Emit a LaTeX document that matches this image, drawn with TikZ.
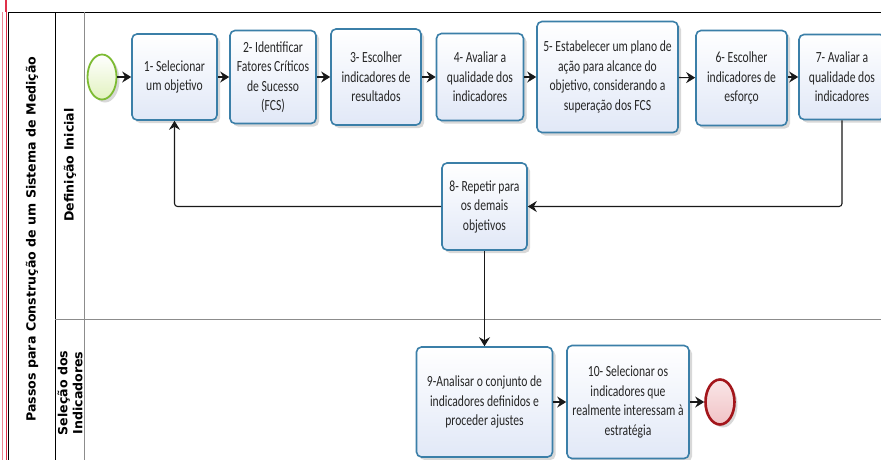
\documentclass[tikz,border=0pt]{standalone}
\usepackage{fontspec}
\newfontfamily\taskfont[FakeStretch=0.75]{Carlito}
\newfontfamily\lanefont{DejaVu Sans}
\usepackage{tikz}
\usetikzlibrary{arrows.meta,shapes.geometric,shadows}
\definecolor{taskline}{HTML}{3B7FA8}
\definecolor{taskfill}{HTML}{E1E8F7}
\definecolor{startline}{HTML}{7DBB33}
\definecolor{startfill}{HTML}{E2F2BF}
\definecolor{endline}{HTML}{A3161B}
\definecolor{endfill}{HTML}{F1C2C5}
\definecolor{laneline}{HTML}{8C8C8C}
\definecolor{poolmark}{HTML}{E0304A}
\tikzset{
  task/.style={draw=taskline,line width=1.6pt,rounded corners=5pt,
    top color=white,bottom color=taskfill,
    drop shadow={shadow xshift=3pt,shadow yshift=-3pt,fill=black!30,opacity=0.5},
    align=center,inner sep=2pt,text=black!85,
    font=\taskfont\fontsize{15.5}{19.5}\selectfont},
  startev/.style={ellipse,draw=startline,line width=1.8pt,inner sep=0pt,
    minimum width=29pt,minimum height=45pt,top color=white,bottom color=startfill,
    drop shadow={shadow xshift=3pt,shadow yshift=-3pt,fill=black!30,opacity=0.5}},
  endev/.style={ellipse,draw=endline,line width=2.6pt,inner sep=0pt,
    minimum width=29pt,minimum height=45pt,top color=endfill!40,bottom color=endfill,
    drop shadow={shadow xshift=3pt,shadow yshift=-3pt,fill=black!30,opacity=0.5}},
  flow/.style={draw=black!90,line width=1.1pt,-{Stealth[length=9pt,width=11pt,inset=3pt]}},
  lanelabel/.style={rotate=90,align=center,text=black,
    font=\lanefont\bfseries\fontsize{12.6}{15}\selectfont}
}

\begin{document}
\begin{tikzpicture}[x=1pt,y=-1pt]
    \clip (0,0) rectangle (881,459);
    \fill[white] (0,0) rectangle (881,459);
    % pool and lanes
    \draw[poolmark,line width=2pt] (5.5,0) -- (5.5,12);
    \draw[poolmark,line width=0.6pt] (6,12) -- (6,470);
    \draw[poolmark!60,line width=0.5pt] (2.5,12) -- (2.5,470);
    \draw[black,line width=1pt] (900,12) -- (8,12) -- (8,470);
    \draw[black,line width=1pt] (55,12) -- (55,470);
    \draw[laneline,line width=1pt] (84,12) -- (84,470);
    \draw[laneline,line width=1pt] (55,319) -- (900,319);
    \node[lanelabel] (pool) at (32,239) {Passos para Construção de um Sistema de Medição};
    \node[lanelabel] (lanea) at (70,165) {Definição Inicial};
    \node[lanelabel] (laneb) at (70,393) {Seleção dos\\Indicadores};
    % events and tasks
    \node[startev] (start) at (102,77) {};
    \node[task,minimum width=85pt,minimum height=86pt] (t1) at (174.5,77) {1- Selecionar\\um objetivo};
    \node[task,minimum width=86pt,minimum height=93pt] (t2) at (273,77) {2- Identificar\\Fatores Críticos\\de Sucesso\\(FCS)};
    \node[task,minimum width=90pt,minimum height=96pt] (t3) at (376,77) {3- Escolher\\indicadores de\\resultados};
    \node[task,minimum width=87pt,minimum height=87pt] (t4) at (480,77) {4- Avaliar a\\qualidade dos\\indicadores};
    \node[task,minimum width=141pt,minimum height=111pt] (t5) at (607.5,77) {5- Estabelecer um plano de\\ação para alcance do\\objetivo, considerando a\\superação dos FCS};
    \node[task,minimum width=91pt,minimum height=95pt] (t6) at (741.5,78) {6- Escolher\\indicadores de\\esforço};
    \node[task,minimum width=86pt,minimum height=85pt] (t7) at (842,77) {7- Avaliar a\\qualidade dos\\indicadores};
    \node[task,minimum width=85pt,minimum height=87pt] (t8) at (484.5,206.5) {8- Repetir para\\os demais\\objetivos};
    \node[task,minimum width=136pt,minimum height=110pt] (t9) at (484.5,402) {9-Analisar o conjunto de\\indicadores definidos e\\proceder ajustes};
    \node[task,minimum width=122pt,minimum height=113pt] (t10) at (628,402) {10- Selecionar os\\indicadores que\\realmente interessam à\\estratégia};
    \node[endev] (end) at (720,402) {};
    % flows
    \draw[flow] (start) -- (t1);
    \draw[flow] (t1) -- (t2);
    \draw[flow] (t2) -- (t3);
    \draw[flow] (t3) -- (t4);
    \draw[flow] (t4) -- (t5);
    \draw[flow] (t5) -- (t6);
    \draw[flow] (t6.east |- t7) -- (t7);
    \draw[flow,rounded corners=3pt] (t7.south) |- (t8.east);
    \draw[flow,rounded corners=3pt] (t8.west) -| (t1.south);
    \draw[flow] (t8) -- (t9);
    \draw[flow] (t9) -- (t10);
    \draw[flow] (t10) -- (end);
\end{tikzpicture}
\end{document}
